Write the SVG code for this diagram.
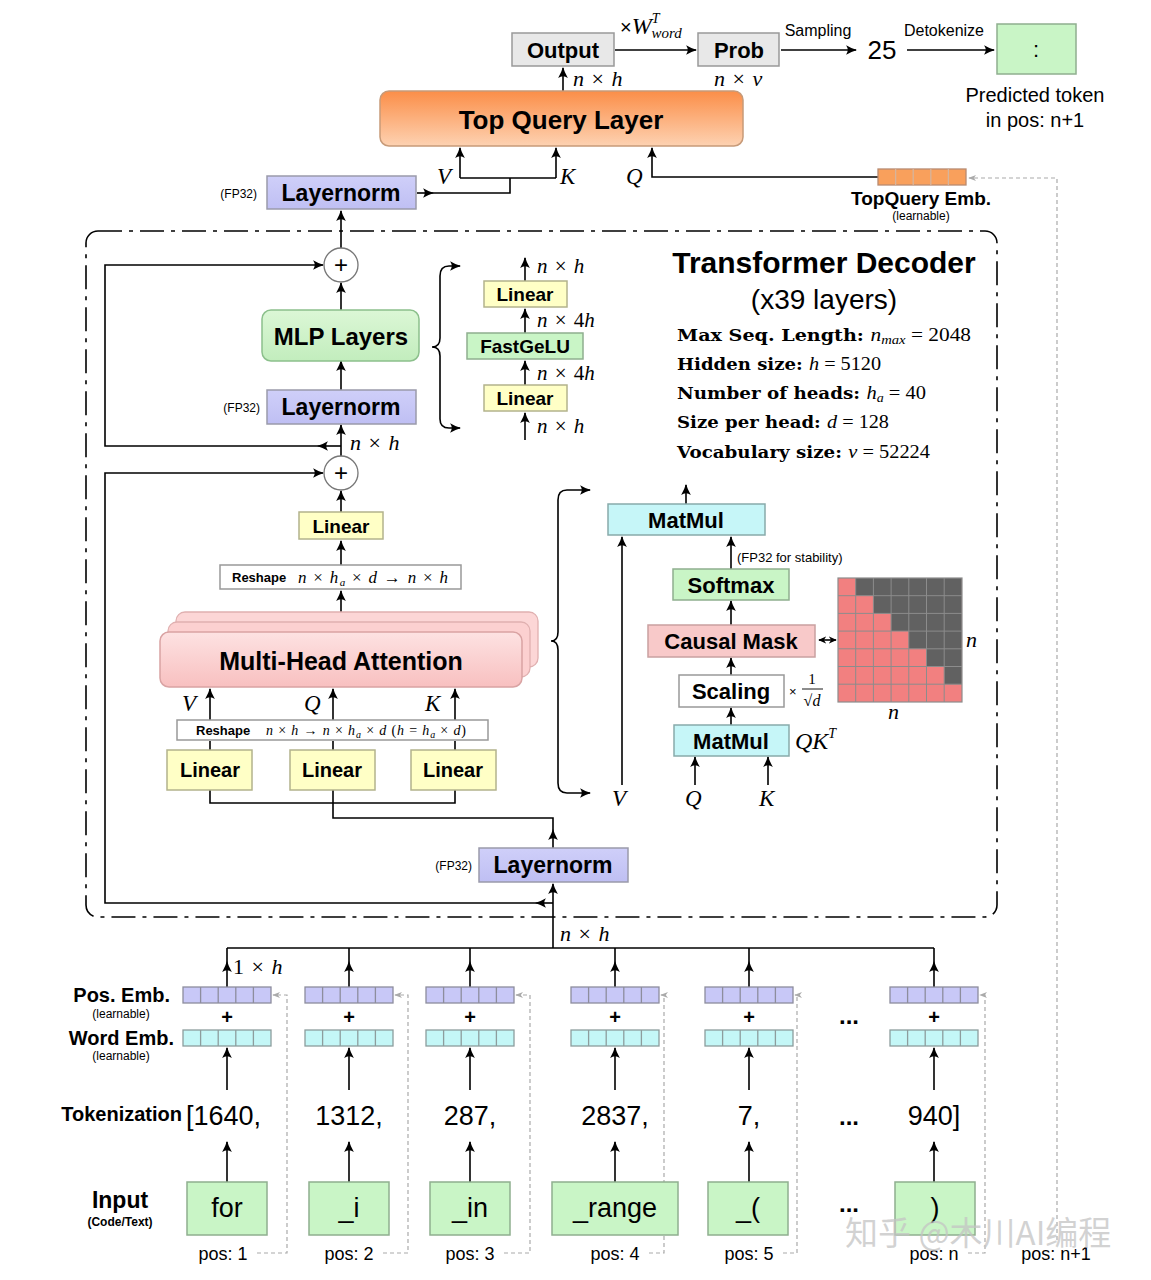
<svg xmlns="http://www.w3.org/2000/svg" width="1151" height="1280" viewBox="0 0 1151 1280">
<style>
.b{font-family:"Liberation Sans",Arial,sans-serif;font-weight:bold;fill:#000}
.s{font-family:"Liberation Sans",Arial,sans-serif;fill:#000}
.m{font-family:"Liberation Serif","Times New Roman",serif;font-style:italic;fill:#000}
.mx{font-size:22px;word-spacing:2px}
.r{font-style:normal}
.sb{font-family:"DejaVu Serif","Liberation Serif",serif;font-weight:bold;font-style:normal}
.c{text-anchor:middle;dominant-baseline:central}
.ln{stroke:#000;stroke-width:1.6;fill:none}
.dl{stroke:#aaa;stroke-width:1.2;stroke-dasharray:4 3;fill:none}
.box{stroke:#999;stroke-width:1.5}
.lin{fill:#ffffc6;stroke:#b3b38c;stroke-width:1.5}
.grn{fill:#c9f5c6;stroke:#8fae8f;stroke-width:1.5}
.cyn{fill:#c6f6f8;stroke:#8aa;stroke-width:1.5}
.ln2{fill:url(#gln);stroke:#9a9aaa;stroke-width:1.5}
</style>
<defs>
<marker id="a" viewBox="0 0 10 10" refX="9" refY="5" markerWidth="11" markerHeight="11" markerUnits="userSpaceOnUse" orient="auto-start-reverse"><path d="M0,0.6 Q5,3.6 10,5 Q5,6.4 0,9.4 Q3,5 0,0.6z" fill="#000"/></marker>
<marker id="as" viewBox="0 0 10 10" refX="9" refY="5" markerWidth="8" markerHeight="8" markerUnits="userSpaceOnUse" orient="auto-start-reverse"><path d="M0,0.6 L10,5 L0,9.4 L3,5z" fill="#000"/></marker>
<marker id="ag" viewBox="0 0 10 10" refX="9" refY="5" markerWidth="8" markerHeight="8" markerUnits="userSpaceOnUse" orient="auto-start-reverse"><path d="M0,1 L10,5 L0,9 L3,5z" fill="#aaa"/></marker>
<linearGradient id="gtq" x1="0" y1="0" x2="0" y2="1"><stop offset="0" stop-color="#fb8e48"/><stop offset="1" stop-color="#fdd2b2"/></linearGradient>
<linearGradient id="gmlp" x1="0" y1="0" x2="0" y2="1"><stop offset="0" stop-color="#dcf7d6"/><stop offset="1" stop-color="#c2edbd"/></linearGradient>
<linearGradient id="gmha" x1="0" y1="0" x2="0" y2="1"><stop offset="0" stop-color="#fde2e2"/><stop offset="1" stop-color="#f8c0c0"/></linearGradient>
<linearGradient id="gln" x1="0" y1="0" x2="0" y2="1"><stop offset="0" stop-color="#cfcff9"/><stop offset="1" stop-color="#bfbff3"/></linearGradient>
<g id="pe"><rect x="-44" y="0" width="88" height="16" fill="#c8c8f7" stroke="#8d8d9d" stroke-width="1.3"/><path d="M-26.4,0v16M-8.8,0v16M8.8,0v16M26.4,0v16" stroke="#8d8d9d" stroke-width="1.3"/></g>
<g id="we"><rect x="-44" y="0" width="88" height="16" fill="#c4f7f7" stroke="#8d9d9d" stroke-width="1.3"/><path d="M-26.4,0v16M-8.8,0v16M8.8,0v16M26.4,0v16" stroke="#8d9d9d" stroke-width="1.3"/></g>
<g id="tqe"><rect x="-44" y="0" width="88" height="16" fill="#f9a05c" stroke="#b88a70" stroke-width="1.3"/><path d="M-26.4,0v16M-8.8,0v16M8.8,0v16M26.4,0v16" stroke="#d6b49c" stroke-width="1.3"/></g>
</defs>
<rect width="1151" height="1280" fill="#fff"/>

<!-- Transformer decoder frame -->
<rect x="86" y="231" width="911" height="686" rx="12" fill="none" stroke="#000" stroke-width="1.6" stroke-dasharray="24 7 4 7"/>

<!-- connectors -->
<g id="connectors">
<path class="ln" d="M563,91 L563,68" marker-end="url(#a)"/>
<path class="ln" d="M615,50 L696,50" marker-end="url(#a)"/>
<path class="ln" d="M781,50 L856,50" marker-end="url(#a)"/>
<path class="ln" d="M907,50 L994,50" marker-end="url(#a)"/>
<path class="ln" d="M417,193 L433,193" marker-end="url(#a)"/>
<path class="ln" d="M433,193 L510,193 L510,178"/>
<path class="ln" d="M460,178 L556,178"/>
<path class="ln" d="M460,178 L460,148" marker-end="url(#a)"/>
<path class="ln" d="M556,178 L556,148" marker-end="url(#a)"/>
<path class="ln" d="M878,177 L652,177 L652,148" marker-end="url(#a)"/>
<path class="dl" d="M1057,1240 L1057,178 L969,178" marker-end="url(#ag)"/>

<path class="ln" d="M341,248 L341,211" marker-end="url(#a)"/>
<path class="ln" d="M341,310 L341,283" marker-end="url(#a)"/>
<path class="ln" d="M341,390 L341,361" marker-end="url(#a)"/>
<path class="ln" d="M341,456 L341,425" marker-end="url(#a)"/>
<path class="ln" d="M341,446 L318,446" marker-end="url(#a)"/>
<path class="ln" d="M318,446 L105,446 L105,265 L323,265" marker-end="url(#a)"/>
<path class="ln" d="M341,512 L341,491" marker-end="url(#a)"/>
<path class="ln" d="M341,565 L341,541" marker-end="url(#a)"/>
<path class="ln" d="M341,632 L341,591" marker-end="url(#a)"/>
<path class="ln" d="M553,903 L536,903" marker-end="url(#a)"/>
<path class="ln" d="M536,903 L105,903 L105,473 L323,473" marker-end="url(#a)"/>

<path class="ln" d="M460,266 L449,266 Q440,266 440,276 L440,338 Q440,347 432,347 Q440,347 440,356 L440,419 Q440,428 449,428 L460,428" marker-start="url(#a)" marker-end="url(#a)"/>
<path class="ln" d="M525,281 L525,258" marker-end="url(#a)"/>
<path class="ln" d="M525,333 L525,309" marker-end="url(#a)"/>
<path class="ln" d="M525,385 L525,361" marker-end="url(#a)"/>
<path class="ln" d="M525,440 L525,413" marker-end="url(#a)"/>

<path class="ln" d="M210,750 L210,741"/>
<path class="ln" d="M333,750 L333,741"/>
<path class="ln" d="M455,750 L455,741"/>
<path class="ln" d="M210,720 L210,689" marker-end="url(#a)"/>
<path class="ln" d="M333,720 L333,689" marker-end="url(#a)"/>
<path class="ln" d="M455,720 L455,689" marker-end="url(#a)"/>
<path class="ln" d="M210,790 L210,803 L455,803 L455,790"/>
<path class="ln" d="M333,790 L333,803"/>
<path class="ln" d="M553,848 L553,830" marker-end="url(#a)"/>
<path class="ln" d="M553,830 L553,818 L333,818 L333,803"/>

<path class="ln" d="M590,490 L567,490 Q558,490 558,500 L558,632 Q558,641 551,641 Q558,641 558,650 L558,783 Q558,793 567,793 L590,793" marker-start="url(#a)" marker-end="url(#a)"/>
<path class="ln" d="M686,504 L686,485" marker-end="url(#a)"/>
<path class="ln" d="M622,785 L622,537" marker-end="url(#a)"/>
<path class="ln" d="M731,569 L731,537" marker-end="url(#a)"/>
<path class="ln" d="M731,625 L731,601" marker-end="url(#a)"/>
<path class="ln" d="M731,675 L731,658" marker-end="url(#a)"/>
<path class="ln" d="M731,725 L731,708" marker-end="url(#a)"/>
<path class="ln" d="M695,785 L695,757" marker-end="url(#a)"/>
<path class="ln" d="M768,785 L768,757" marker-end="url(#a)"/>
<path class="ln" d="M819,640 L836,640" stroke-width="1.3" marker-start="url(#as)" marker-end="url(#as)"/>

<path class="ln" d="M553,948 L553,884" marker-end="url(#a)"/>
<path class="ln" d="M227,948 L934,948"/>
<path class="ln" d="M227,987 L227,962" marker-end="url(#a)"/>
<path class="ln" d="M349,987 L349,962" marker-end="url(#a)"/>
<path class="ln" d="M470,987 L470,962" marker-end="url(#a)"/>
<path class="ln" d="M615,987 L615,962" marker-end="url(#a)"/>
<path class="ln" d="M749,987 L749,962" marker-end="url(#a)"/>
<path class="ln" d="M934,987 L934,962" marker-end="url(#a)"/>
<path class="ln" d="M227,962 L227,948 M349,962 L349,948 M470,962 L470,948 M615,962 L615,948 M749,962 L749,948 M934,962 L934,948"/>
<path class="ln" d="M227,1090 L227,1048" marker-end="url(#a)"/>
<path class="ln" d="M349,1090 L349,1048" marker-end="url(#a)"/>
<path class="ln" d="M470,1090 L470,1048" marker-end="url(#a)"/>
<path class="ln" d="M615,1090 L615,1048" marker-end="url(#a)"/>
<path class="ln" d="M749,1090 L749,1048" marker-end="url(#a)"/>
<path class="ln" d="M934,1090 L934,1048" marker-end="url(#a)"/>
<path class="ln" d="M227,1182 L227,1142" marker-end="url(#a)"/>
<path class="ln" d="M349,1182 L349,1142" marker-end="url(#a)"/>
<path class="ln" d="M470,1182 L470,1142" marker-end="url(#a)"/>
<path class="ln" d="M615,1182 L615,1142" marker-end="url(#a)"/>
<path class="ln" d="M749,1182 L749,1142" marker-end="url(#a)"/>
<path class="ln" d="M934,1182 L934,1142" marker-end="url(#a)"/>
<path class="dl" d="M257,1253 L287,1253 L287,995 L273,995" marker-end="url(#ag)"/>
<path class="dl" d="M383,1253 L408,1253 L408,995 L395,995" marker-end="url(#ag)"/>
<path class="dl" d="M504,1253 L530,1253 L530,995 L516,995" marker-end="url(#ag)"/>
<path class="dl" d="M649,1253 L664,1253 L664,995 L661,995" marker-end="url(#ag)"/>
<path class="dl" d="M783,1253 L797,1253 L797,995 L795,995" marker-end="url(#ag)"/>
<path class="dl" d="M968,1253 L985,1253 L985,995 L980,995" marker-end="url(#ag)"/>
</g>

<!-- top output -->
<g id="output"><rect x="512" y="33" width="102" height="33" fill="#e8e8e8" class="box"/><text class="b c" x="563" y="50" font-size="22">Output</text></g>
<g id="prob"><rect x="698" y="33" width="81" height="33" fill="#e8e8e8" class="box"/><text class="b c" x="739" y="50" font-size="22">Prob</text></g>
<text class="s" x="620" y="34" font-size="20">×<tspan class="m" font-size="24">W</tspan><tspan class="m" font-size="14" dy="-11">T</tspan><tspan class="m" font-size="15" dx="-8" dy="15">word</tspan></text>
<text class="m mx" x="714" y="86">n <tspan class="r">×</tspan> v</text>
<text class="s" x="818" y="36" font-size="16" text-anchor="middle">Sampling</text>
<text class="s" x="944" y="36" font-size="16" text-anchor="middle">Detokenize</text>
<text class="s" x="882" y="59" font-size="26" text-anchor="middle">25</text>
<g id="pred"><rect x="997" y="24" width="79" height="50" class="grn" stroke="#8fae8f"/><text class="s c" x="1036" y="49" font-size="22">:</text></g>
<text class="s" x="1035" y="102" font-size="20" text-anchor="middle">Predicted token</text>
<text class="s" x="1035" y="127" font-size="20" text-anchor="middle">in pos: n+1</text>
<text class="m mx" x="573" y="86">n <tspan class="r">×</tspan> h</text>

<g id="topquery"><rect x="380" y="91" width="363" height="55" rx="9" fill="url(#gtq)" stroke="#c79a78" stroke-width="1.5"/><text class="b c" x="561" y="120" font-size="26">Top Query Layer</text></g>
<text class="m" x="437" y="184" font-size="23">V</text>
<text class="m" x="560" y="184" font-size="23">K</text>
<text class="m" x="626" y="184" font-size="23">Q</text>

<g id="ln-top"><rect x="267" y="176" width="149" height="33" class="ln2"/><text class="b c" x="341" y="193" font-size="23">Layernorm</text></g>
<text class="s" x="257" y="198" font-size="12" text-anchor="end">(FP32)</text>

<g id="tq-emb"><use href="#tqe" x="922" y="169"/></g>
<text class="b" x="921" y="205" font-size="19" text-anchor="middle">TopQuery Emb.</text>
<text class="s" x="921" y="220" font-size="12" text-anchor="middle">(learnable)</text>

<!-- decoder internals -->
<g id="add1"><circle cx="341" cy="265" r="17" fill="#fff" stroke="#777" stroke-width="1.3"/><text class="s c" x="341" y="264" font-size="24">+</text></g>
<g id="mlp"><rect x="262" y="310" width="157" height="51" rx="9" fill="url(#gmlp)" stroke="#8cc08c" stroke-width="1.5"/><text class="b c" x="341" y="336" font-size="24">MLP Layers</text></g>
<g id="ln-mid"><rect x="267" y="390" width="149" height="34" class="ln2"/><text class="b c" x="341" y="407" font-size="23">Layernorm</text></g>
<text class="s" x="260" y="412" font-size="12" text-anchor="end">(FP32)</text>
<text class="m mx" x="350" y="450">n <tspan class="r">×</tspan> h</text>
<g id="add2"><circle cx="341" cy="473" r="17" fill="#fff" stroke="#777" stroke-width="1.3"/><text class="s c" x="341" y="472" font-size="24">+</text></g>

<g id="mlp-lin2"><rect x="484" y="281" width="83" height="26" class="lin"/><text class="b c" x="525" y="294" font-size="19">Linear</text></g>
<g id="gelu"><rect x="467" y="333" width="116" height="26" class="grn"/><text class="b c" x="525" y="346" font-size="19">FastGeLU</text></g>
<g id="mlp-lin1"><rect x="484" y="385" width="83" height="26" class="lin"/><text class="b c" x="525" y="398" font-size="19">Linear</text></g>
<text class="m" x="537" y="273" font-size="21" word-spacing="2">n <tspan class="r">×</tspan> h</text>
<text class="m" x="537" y="327" font-size="21" word-spacing="2">n <tspan class="r">×</tspan> <tspan class="r">4</tspan>h</text>
<text class="m" x="537" y="380" font-size="21" word-spacing="2">n <tspan class="r">×</tspan> <tspan class="r">4</tspan>h</text>
<text class="m" x="537" y="433" font-size="21" word-spacing="2">n <tspan class="r">×</tspan> h</text>

<text class="b" x="824" y="273" font-size="30" text-anchor="middle">Transformer Decoder</text>
<text class="s" x="824" y="309" font-size="28" text-anchor="middle">(x39 layers)</text>
<text class="m" x="677" y="341" font-size="19" textLength="294" lengthAdjust="spacingAndGlyphs"><tspan class="sb" font-size="17">Max Seq. Length: </tspan>n<tspan font-size="13" dy="3">max</tspan><tspan class="r" dy="-3"> = 2048</tspan></text>
<text class="m" x="677" y="370" font-size="19" textLength="204" lengthAdjust="spacingAndGlyphs"><tspan class="sb" font-size="17">Hidden size: </tspan>h<tspan class="r"> = 5120</tspan></text>
<text class="m" x="677" y="399" font-size="19" textLength="249" lengthAdjust="spacingAndGlyphs"><tspan class="sb" font-size="17">Number of heads: </tspan>h<tspan font-size="13" dy="3">a</tspan><tspan class="r" dy="-3"> = 40</tspan></text>
<text class="m" x="677" y="428" font-size="19" textLength="212" lengthAdjust="spacingAndGlyphs"><tspan class="sb" font-size="17">Size per head: </tspan>d<tspan class="r"> = 128</tspan></text>
<text class="m" x="677" y="458" font-size="19" textLength="253" lengthAdjust="spacingAndGlyphs"><tspan class="sb" font-size="17">Vocabulary size: </tspan>v<tspan class="r"> = 52224</tspan></text>

<g id="attn-lin-out"><rect x="299" y="512" width="84" height="27" class="lin"/><text class="b c" x="341" y="526" font-size="19">Linear</text></g>
<g id="reshape-out"><rect x="220" y="565" width="241" height="24" fill="#fff" class="box"/><text class="b" x="232" y="582" font-size="13">Reshape</text><text class="m" x="298" y="583" font-size="17" textLength="150" lengthAdjust="spacing">n <tspan class="r">×</tspan> h<tspan font-size="11" dy="3">a</tspan><tspan dy="-3"> </tspan><tspan class="r">×</tspan> d <tspan class="r">→</tspan> n <tspan class="r">×</tspan> h</text></g>

<g id="mha">
<rect x="176" y="612" width="362" height="55" rx="9" fill="#fcd6d6" stroke="#e0b0b0" stroke-width="1.3"/>
<rect x="168" y="622" width="362" height="55" rx="9" fill="#fcd0d0" stroke="#e0b0b0" stroke-width="1.3"/>
<rect x="160" y="632" width="362" height="55" rx="9" fill="url(#gmha)" stroke="#d9a3a3" stroke-width="1.5"/>
<text class="b c" x="341" y="661" font-size="25">Multi-Head Attention</text>
</g>
<text class="m" x="182" y="711" font-size="23">V</text>
<text class="m" x="304" y="711" font-size="23">Q</text>
<text class="m" x="425" y="711" font-size="23">K</text>
<g id="reshape-in"><rect x="177" y="720" width="311" height="20" fill="#fff" class="box"/><text class="b" x="196" y="735" font-size="13">Reshape</text><text class="m" x="266" y="735" font-size="14" textLength="200" lengthAdjust="spacing">n <tspan class="r">×</tspan> h <tspan class="r">→</tspan> n <tspan class="r">×</tspan> h<tspan font-size="10" dy="3">a</tspan><tspan dy="-3"> </tspan><tspan class="r">×</tspan> d <tspan class="r">(</tspan>h <tspan class="r">=</tspan> h<tspan font-size="10" dy="3">a</tspan><tspan dy="-3"> </tspan><tspan class="r">×</tspan> d<tspan class="r">)</tspan></text></g>
<g id="lin-v"><rect x="167" y="750" width="85" height="40" class="lin"/><text class="b c" x="210" y="770" font-size="20">Linear</text></g>
<g id="lin-q"><rect x="290" y="750" width="85" height="40" class="lin"/><text class="b c" x="332" y="770" font-size="20">Linear</text></g>
<g id="lin-k"><rect x="411" y="750" width="85" height="40" class="lin"/><text class="b c" x="453" y="770" font-size="20">Linear</text></g>

<g id="ln-bot"><rect x="479" y="848" width="149" height="34" class="ln2"/><text class="b c" x="553" y="865" font-size="23">Layernorm</text></g>
<text class="s" x="472" y="870" font-size="12" text-anchor="end">(FP32)</text>

<!-- attention detail -->
<g id="matmul-top"><rect x="608" y="504" width="157" height="31" class="cyn"/><text class="b c" x="686" y="520" font-size="22">MatMul</text></g>
<text class="s" x="737" y="562" font-size="13">(FP32 for stability)</text>
<g id="softmax"><rect x="673" y="569" width="116" height="31" class="grn"/><text class="b c" x="731" y="585" font-size="22">Softmax</text></g>
<g id="causal"><rect x="648" y="625" width="167" height="32" fill="#f8c9c9" stroke="#c9a0a0" stroke-width="1.5"/><text class="b c" x="731" y="641" font-size="22">Causal Mask</text></g>
<g id="scaling"><rect x="679" y="675" width="105" height="32" fill="#fff" class="box"/><text class="b c" x="731" y="691" font-size="22">Scaling</text></g>
<g id="scalefrac"><text class="s" x="789" y="696" font-size="13">×</text><text class="m r" x="812" y="684" font-size="15" text-anchor="middle">1</text><path d="M802,689 L823,689" stroke="#000" stroke-width="0.9"/><text class="m" x="812" y="706" font-size="16" text-anchor="middle"><tspan class="r">√</tspan>d</text></g>
<g id="matmul-bot"><rect x="674" y="725" width="115" height="31" class="cyn"/><text class="b c" x="731" y="741" font-size="22">MatMul</text></g>
<text class="m" x="795" y="749" font-size="24">QK<tspan font-size="14" dy="-11">T</tspan></text>
<text class="m" x="612" y="806" font-size="23">V</text>
<text class="m" x="685" y="806" font-size="23">Q</text>
<text class="m" x="759" y="806" font-size="23">K</text>
<g id="mask-grid">
<rect x="838" y="578" width="124" height="124" fill="#f28080"/>
<polygon points="855.7,578 961.9,578 961.9,684.2 944.2,684.2 944.2,666.5 926.5,666.5 926.5,648.8 908.8,648.8 908.8,631.1 891.1,631.1 891.1,613.4 873.4,613.4 873.4,595.7 855.7,595.7" fill="#616161"/>
<path d="M855.7,578V702M873.4,578V702M891.1,578V702M908.8,578V702M926.5,578V702M944.2,578V702M838,595.7H962M838,613.4H962M838,631.1H962M838,648.8H962M838,666.5H962M838,684.2H962" stroke="#8c8c8c" stroke-width="1"/>
<rect x="838" y="578" width="124" height="124" fill="none" stroke="#8c8c8c" stroke-width="1.2"/>
</g>
<text class="m" x="966" y="647" font-size="22">n</text>
<text class="m" x="888" y="719" font-size="22">n</text>

<text class="m mx" x="560" y="941">n <tspan class="r">×</tspan> h</text>
<text class="m mx" x="233" y="974"><tspan class="r">1</tspan> <tspan class="r">×</tspan> h</text>

<!-- embeddings -->
<g id="emb1"><use href="#pe" x="227" y="987"/><text class="b" x="227" y="1024" font-size="20" text-anchor="middle">+</text><use href="#we" x="227" y="1030"/></g>
<g id="emb2"><use href="#pe" x="349" y="987"/><text class="b" x="349" y="1024" font-size="20" text-anchor="middle">+</text><use href="#we" x="349" y="1030"/></g>
<g id="emb3"><use href="#pe" x="470" y="987"/><text class="b" x="470" y="1024" font-size="20" text-anchor="middle">+</text><use href="#we" x="470" y="1030"/></g>
<g id="emb4"><use href="#pe" x="615" y="987"/><text class="b" x="615" y="1024" font-size="20" text-anchor="middle">+</text><use href="#we" x="615" y="1030"/></g>
<g id="emb5"><use href="#pe" x="749" y="987"/><text class="b" x="749" y="1024" font-size="20" text-anchor="middle">+</text><use href="#we" x="749" y="1030"/></g>
<g id="embn"><use href="#pe" x="934" y="987"/><text class="b" x="934" y="1024" font-size="20" text-anchor="middle">+</text><use href="#we" x="934" y="1030"/></g>
<text class="b" x="849" y="1024" font-size="24" text-anchor="middle">...</text>

<text class="b" x="170" y="1002" font-size="20" text-anchor="end">Pos. Emb.</text>
<text class="s" x="121" y="1018" font-size="12" text-anchor="middle">(learnable)</text>
<text class="b" x="174" y="1045" font-size="20" text-anchor="end">Word Emb.</text>
<text class="s" x="121" y="1060" font-size="12" text-anchor="middle">(learnable)</text>

<text class="b" x="182" y="1121" font-size="20" text-anchor="end">Tokenization</text>
<text class="s" x="186" y="1125" font-size="27">[1640,</text>
<text class="s" x="349" y="1125" font-size="27" text-anchor="middle">1312,</text>
<text class="s" x="470" y="1125" font-size="27" text-anchor="middle">287,</text>
<text class="s" x="615" y="1125" font-size="27" text-anchor="middle">2837,</text>
<text class="s" x="749" y="1125" font-size="27" text-anchor="middle">7,</text>
<text class="b" x="849" y="1125" font-size="24" text-anchor="middle">...</text>
<text class="s" x="934" y="1125" font-size="27" text-anchor="middle">940]</text>

<text class="b" x="120" y="1208" font-size="23" text-anchor="middle">Input</text>
<text class="b" x="120" y="1226" font-size="12" text-anchor="middle">(Code/Text)</text>
<g id="in1"><rect x="187" y="1182" width="80" height="53" class="grn"/><text class="s c" x="227" y="1208" font-size="27">for</text></g>
<g id="in2"><rect x="309" y="1182" width="80" height="53" class="grn"/><text class="s c" x="349" y="1208" font-size="27">_i</text></g>
<g id="in3"><rect x="430" y="1182" width="80" height="53" class="grn"/><text class="s c" x="470" y="1208" font-size="27">_in</text></g>
<g id="in4"><rect x="552" y="1182" width="126" height="53" class="grn"/><text class="s c" x="615" y="1208" font-size="27">_range</text></g>
<g id="in5"><rect x="708" y="1182" width="80" height="53" class="grn"/><text class="s c" x="748" y="1208" font-size="27">_(</text></g>
<g id="inn"><rect x="895" y="1182" width="80" height="53" class="grn"/><text class="s c" x="935" y="1208" font-size="27">)</text></g>
<text class="b" x="849" y="1212" font-size="24" text-anchor="middle">...</text>

<text class="s" x="223" y="1260" font-size="18" text-anchor="middle">pos: 1</text>
<text class="s" x="349" y="1260" font-size="18" text-anchor="middle">pos: 2</text>
<text class="s" x="470" y="1260" font-size="18" text-anchor="middle">pos: 3</text>
<text class="s" x="615" y="1260" font-size="18" text-anchor="middle">pos: 4</text>
<text class="s" x="749" y="1260" font-size="18" text-anchor="middle">pos: 5</text>
<text class="s" x="934" y="1260" font-size="18" text-anchor="middle">pos: n</text>
<text class="s" x="1056" y="1260" font-size="18" text-anchor="middle">pos: n+1</text>

<text x="845" y="1245" font-family="'Noto Sans CJK SC','Liberation Sans',sans-serif" font-size="33" fill="#c4c4c4" fill-opacity="0.75">知乎 @木川AI编程</text>
</svg>
